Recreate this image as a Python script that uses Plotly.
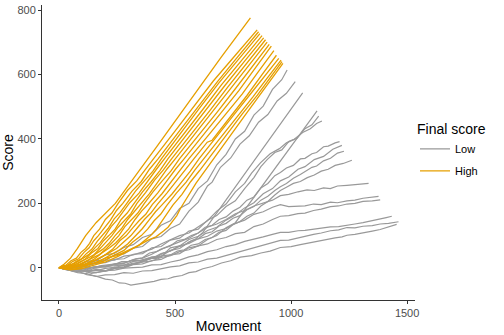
import plotly.graph_objects as go

# ---------------- data: Low final score (grey) ----------------
low01_x = [0, 40, 80, 120, 160, 200, 240, 280, 320, 360, 400, 440, 480, 520, 560, 600, 640, 680, 720, 760, 800, 840, 880, 920, 960, 983]
low01_y = [0, 7, 6, 20, 22, 40, 45, 63, 72, 94, 104, 132, 146, 184, 200, 246, 270, 320, 352, 400, 424, 474, 502, 554, 584, 614]
low02_x = [0, 40, 80, 120, 160, 200, 240, 280, 320, 360, 400, 440, 480, 520, 560, 600, 640, 660, 696, 740, 780, 820, 860, 900, 940, 980, 1018]
low02_y = [0, -2, 9, 8, 23, 24, 40, 43, 61, 66, 90, 97, 122, 136, 176, 204, 254, 266, 312, 341, 384, 410, 452, 476, 518, 542, 578]
low03_x = [0, 40, 80, 120, 160, 200, 240, 280, 320, 360, 400, 440, 480, 520, 560, 590, 620, 1050]
low03_y = [0, -5, 2, -3, 4, 2, 10, 8, 20, 22, 34, 36, 54, 60, 80, 90, 110, 543]
low04_x = [0, 40, 80, 120, 160, 200, 240, 280, 320, 360, 400, 440, 480, 520, 560, 600, 640, 680, 720, 760, 1112]
low04_y = [0, -7, -4, -12, -6, -10, -2, 0, 10, 12, 22, 26, 40, 44, 62, 68, 88, 100, 124, 140, 487]
low05_x = [0, 40, 80, 120, 160, 200, 240, 280, 320, 360, 400, 440, 480, 520, 560, 600, 640, 680, 720, 760, 800, 840, 870, 897, 930, 960, 990, 1026, 1060, 1090, 1119]
low05_y = [0, -4, 6, 4, 14, 16, 26, 28, 42, 44, 62, 66, 86, 92, 114, 120, 148, 162, 190, 208, 246, 280, 314, 336, 358, 366, 392, 402, 432, 444, 471]
low06_x = [0, 40, 80, 120, 160, 200, 240, 280, 320, 360, 400, 440, 480, 520, 560, 600, 640, 680, 720, 760, 800, 830, 868, 910, 950, 980, 1011, 1050, 1083, 1110, 1133]
low06_y = [0, 6, 4, 12, 14, 24, 24, 36, 40, 50, 58, 74, 86, 100, 108, 126, 146, 176, 198, 236, 262, 294, 326, 354, 370, 388, 398, 420, 432, 448, 456]
low07_x = [0, 30, 60, 90, 120, 150, 180, 210, 240, 270, 300, 330, 360, 390, 420, 450, 480, 510, 540, 570, 600, 630, 660, 690, 720, 750, 780, 810, 840, 870, 900, 930, 954, 980, 1010, 1040, 1060, 1090, 1110, 1140, 1160, 1190, 1209]
low07_y = [0, -6, -9, -3, -6, 3, 4, 8, 11, 19, 20, 28, 31, 46, 50, 60, 68, 84, 88, 100, 108, 126, 132, 150, 158, 176, 188, 210, 220, 248, 262, 286, 296, 310, 318, 338, 340, 354, 358, 376, 378, 388, 392]
low08_x = [0, 40, 80, 120, 160, 200, 240, 280, 320, 360, 400, 440, 480, 520, 560, 600, 640, 680, 720, 760, 800, 840, 880, 920, 954, 990, 1030, 1060, 1100, 1140, 1180, 1219]
low08_y = [0, -5, -4, -13, -6, -9, 2, 1, 12, 18, 30, 34, 62, 68, 88, 98, 116, 126, 148, 164, 186, 202, 230, 246, 270, 282, 306, 314, 336, 346, 368, 380]
low09_x = [0, 35, 70, 105, 140, 175, 210, 245, 280, 315, 350, 385, 420, 450, 480, 510, 540, 570, 600, 630, 660, 690, 720, 750, 780, 810, 840, 870, 900, 930, 954, 980, 1010, 1040, 1060, 1090, 1110, 1140, 1170, 1200, 1228]
low09_y = [0, -4, -11, -9, -17, -12, -9, -1, 3, 14, 17, 28, 33, 46, 52, 64, 70, 84, 90, 106, 112, 130, 138, 154, 162, 180, 190, 210, 222, 240, 252, 262, 278, 290, 298, 312, 316, 332, 340, 356, 362]
low10_x = [0, 35, 70, 105, 140, 175, 210, 245, 280, 315, 350, 385, 420, 450, 480, 510, 540, 570, 600, 630, 660, 690, 720, 750, 780, 810, 840, 870, 900, 930, 954, 980, 1010, 1040, 1070, 1100, 1130, 1160, 1190, 1225, 1262]
low10_y = [0, 3, 5, -2, -5, 6, 9, 14, 15, 22, 23, 30, 29, 38, 40, 52, 56, 70, 74, 88, 94, 110, 116, 134, 144, 160, 170, 192, 206, 226, 240, 250, 262, 268, 280, 288, 300, 306, 318, 324, 334]
low11_x = [0, 40, 80, 120, 160, 200, 240, 280, 320, 360, 400, 440, 481, 520, 560, 600, 640, 680, 720, 760, 800, 840, 880, 920, 954, 990, 1030, 1069, 1100, 1140, 1169, 1200, 1241, 1290, 1334]
low11_y = [0, -3, -7, -1, 3, 4, 12, 14, 25, 30, 42, 58, 70, 80, 92, 108, 126, 136, 150, 168, 178, 192, 202, 210, 224, 228, 236, 242, 240, 248, 246, 254, 256, 260, 262]
low12_x = [0, 40, 80, 120, 160, 200, 240, 280, 320, 360, 400, 440, 481, 520, 560, 600, 640, 680, 720, 760, 800, 840, 880, 920, 954, 990, 1030, 1060, 1097, 1130, 1170, 1200, 1241, 1275, 1310, 1345, 1377]
low12_y = [0, -7, -12, -9, -9, -2, 1, 8, 11, 22, 29, 44, 52, 68, 76, 90, 98, 114, 122, 138, 148, 166, 174, 188, 196, 190, 192, 192, 198, 196, 204, 202, 208, 210, 216, 218, 222]
low13_x = [0, 40, 80, 120, 160, 200, 240, 280, 320, 360, 400, 440, 481, 520, 560, 600, 640, 680, 720, 760, 800, 840, 880, 920, 954, 990, 1030, 1060, 1097, 1130, 1170, 1205, 1241, 1275, 1310, 1350, 1384]
low13_y = [0, 3, 5, 2, -1, 4, 6, 10, 11, 18, 21, 32, 38, 50, 56, 68, 74, 88, 94, 106, 110, 128, 136, 150, 160, 162, 168, 170, 178, 182, 190, 192, 198, 200, 206, 208, 211]
low14_x = [0, 40, 80, 120, 160, 200, 240, 280, 320, 360, 400, 440, 481, 520, 560, 600, 640, 680, 720, 760, 800, 840, 880, 920, 954, 990, 1030, 1060, 1096, 1130, 1170, 1205, 1241, 1275, 1310, 1350, 1384, 1410, 1434]
low14_y = [0, -5, -7, -12, -15, -9, -7, -1, 1, 2, 9, 10, 18, 24, 34, 40, 50, 56, 66, 72, 82, 88, 96, 104, 110, 110, 115, 116, 120, 122, 127, 128, 131, 136, 140, 146, 150, 156, 160]
low15_x = [0, 40, 80, 120, 160, 200, 240, 280, 320, 360, 400, 440, 481, 520, 560, 600, 640, 680, 720, 760, 800, 840, 880, 920, 954, 990, 1030, 1060, 1097, 1130, 1170, 1205, 1241, 1275, 1310, 1350, 1384, 1420, 1463]
low15_y = [0, -6, -15, -18, -27, -22, -21, -15, -17, -10, -9, -2, 3, 6, 15, 18, 27, 30, 38, 44, 54, 60, 70, 76, 85, 86, 93, 98, 104, 108, 115, 118, 125, 124, 129, 131, 136, 138, 143]
low16_x = [0, 30, 60, 90, 120, 160, 200, 230, 260, 285, 310, 345, 380, 410, 440, 470, 495, 530, 560, 590, 620, 660, 700, 740, 782, 830, 870, 910, 954, 1000, 1040, 1080, 1126, 1160, 1190, 1220, 1241, 1275, 1310, 1350, 1384, 1420, 1455]
low16_y = [0, -4, -11, -13, -21, -26, -35, -38, -47, -48, -54, -50, -45, -42, -36, -34, -28, -24, -15, -12, -3, 4, 15, 22, 33, 38, 46, 52, 63, 66, 72, 78, 85, 88, 93, 96, 101, 104, 108, 114, 119, 126, 135]

# ---------------- data: High final score (orange) ----------------
high01_x = [0, 10, 23, 50, 80, 115, 160, 243, 300, 352, 420, 500, 596, 700, 825]
high01_y = [0, 5, 12, 30, 60, 100, 140, 200, 255, 308, 375, 455, 553, 655, 776]
high02_x = [0, 15, 30, 52, 75, 95, 115, 132, 150, 175, 200, 228, 255, 295, 335, 372, 408, 495, 580, 665, 760, 854]
high02_y = [0, 6, 8, 22, 30, 48, 60, 76, 100, 120, 150, 170, 200, 240, 270, 306, 339, 420, 500, 580, 660, 739]
high03_x = [0, 18, 35, 60, 85, 108, 130, 150, 170, 196, 222, 248, 275, 315, 355, 390, 428, 512, 598, 683, 770, 860]
high03_y = [0, 1, 6, 20, 28, 48, 62, 84, 100, 126, 148, 178, 200, 238, 268, 306, 339, 418, 500, 578, 655, 733]
high04_x = [0, 20, 40, 68, 95, 118, 142, 165, 185, 212, 238, 264, 290, 330, 368, 405, 442, 525, 608, 690, 780, 866]
high04_y = [0, 5, 8, 14, 26, 44, 58, 82, 100, 122, 152, 172, 198, 238, 270, 300, 339, 420, 498, 575, 654, 727]
high05_x = [0, 22, 45, 75, 105, 130, 155, 178, 200, 225, 250, 278, 305, 345, 382, 420, 455, 535, 618, 700, 790, 875]
high05_y = [0, -1, 5, 20, 30, 42, 62, 78, 100, 128, 148, 176, 202, 232, 270, 306, 339, 412, 490, 568, 648, 721]
high06_x = [0, 25, 50, 80, 112, 140, 168, 192, 215, 242, 268, 294, 320, 360, 398, 435, 470, 550, 630, 715, 800, 882]
high06_y = [0, 4, 7, 12, 26, 46, 60, 84, 100, 120, 150, 170, 196, 236, 268, 302, 339, 414, 490, 566, 642, 714]
high07_x = [0, 28, 55, 88, 120, 150, 180, 204, 228, 255, 282, 310, 336, 374, 412, 450, 486, 568, 650, 728, 810, 890]
high07_y = [0, -2, 4, 18, 28, 40, 62, 80, 100, 126, 146, 168, 200, 234, 272, 304, 339, 412, 488, 562, 636, 708]
high08_x = [0, 30, 60, 95, 130, 160, 190, 216, 242, 270, 296, 322, 350, 390, 428, 465, 502, 580, 660, 740, 820, 897]
high08_y = [0, 3, 6, 10, 25, 44, 58, 76, 100, 122, 150, 172, 198, 230, 268, 306, 339, 410, 484, 556, 630, 701]
high09_x = [0, 32, 65, 102, 140, 172, 205, 232, 258, 284, 310, 340, 368, 405, 445, 482, 520, 600, 680, 760, 835, 906]
high09_y = [0, -3, 3, 16, 28, 40, 60, 82, 100, 128, 148, 170, 200, 236, 270, 300, 339, 410, 482, 556, 626, 694]
high10_x = [0, 35, 70, 110, 150, 185, 218, 245, 272, 300, 328, 356, 385, 425, 465, 502, 540, 620, 700, 775, 848, 915]
high10_y = [0, 2, 5, 10, 26, 46, 62, 78, 100, 120, 150, 176, 198, 232, 270, 306, 339, 410, 480, 550, 622, 688]
high11_x = [0, 38, 75, 118, 160, 195, 232, 262, 290, 318, 345, 374, 402, 444, 484, 522, 560, 640, 720, 790, 860, 926]
high11_y = [0, -4, 2, 14, 24, 38, 58, 84, 100, 124, 146, 166, 196, 230, 268, 302, 339, 408, 478, 540, 610, 674]
high12_x = [0, 40, 80, 125, 170, 210, 248, 280, 310, 340, 368, 396, 425, 465, 506, 544, 582, 639, 660, 740, 810, 875, 937]
high12_y = [0, 3, 4, 12, 28, 44, 60, 80, 100, 126, 150, 170, 198, 232, 268, 304, 339, 390, 396, 470, 535, 600, 660]
high13_x = [0, 42, 85, 132, 180, 222, 262, 296, 330, 360, 388, 416, 445, 488, 528, 566, 604, 680, 750, 820, 885, 947]
high13_y = [0, -5, -2, 10, 22, 40, 56, 74, 100, 122, 148, 174, 196, 230, 266, 300, 339, 410, 472, 535, 595, 650]
high14_x = [0, 45, 90, 140, 190, 235, 280, 318, 355, 382, 410, 438, 465, 506, 548, 586, 625, 700, 770, 835, 898, 957]
high14_y = [0, 1, 3, 12, 20, 38, 54, 80, 100, 120, 146, 166, 194, 232, 266, 304, 339, 408, 472, 530, 590, 645]
high15_x = [0, 48, 95, 148, 200, 250, 300, 348, 395, 418, 440, 465, 490, 530, 568, 606, 645, 720, 790, 855, 910, 961]
high15_y = [0, -6, -3, 8, 18, 34, 52, 72, 100, 118, 142, 166, 194, 228, 268, 302, 339, 412, 478, 536, 590, 640]
high16_x = [0, 50, 100, 150, 200, 250, 300, 340, 382, 418, 452, 470, 490, 508, 524, 556, 590, 628, 666, 740, 810, 880, 965]
high16_y = [0, 4, 10, 14, 30, 38, 55, 68, 85, 96, 115, 126, 145, 162, 185, 222, 262, 300, 339, 412, 482, 552, 635]

low_lines = [
    (low01_x, low01_y), (low02_x, low02_y), (low03_x, low03_y), (low04_x, low04_y),
    (low05_x, low05_y), (low06_x, low06_y), (low07_x, low07_y), (low08_x, low08_y),
    (low09_x, low09_y), (low10_x, low10_y), (low11_x, low11_y), (low12_x, low12_y),
    (low13_x, low13_y), (low14_x, low14_y), (low15_x, low15_y), (low16_x, low16_y),
]
high_lines = [
    (high01_x, high01_y), (high02_x, high02_y), (high03_x, high03_y), (high04_x, high04_y),
    (high05_x, high05_y), (high06_x, high06_y), (high07_x, high07_y), (high08_x, high08_y),
    (high09_x, high09_y), (high10_x, high10_y), (high11_x, high11_y), (high12_x, high12_y),
    (high13_x, high13_y), (high14_x, high14_y), (high15_x, high15_y), (high16_x, high16_y),
]

x_ticks = [0, 500, 1000, 1500]
y_ticks = [0, 200, 400, 600, 800]

LOW_COLOR = "#999999"
HIGH_COLOR = "#E69F00"
FONT = "Liberation Sans, Arial, sans-serif"

fig = go.Figure()
for i, (xs, ys) in enumerate(low_lines):
    fig.add_trace(go.Scatter(x=xs, y=ys, mode="lines", name="Low", legendgroup="Low",
                             showlegend=(i == 0), line=dict(color=LOW_COLOR, width=1.2)))
for i, (xs, ys) in enumerate(high_lines):
    fig.add_trace(go.Scatter(x=xs, y=ys, mode="lines", name="High", legendgroup="High",
                             showlegend=(i == 0), line=dict(color=HIGH_COLOR, width=1.3)))

axis_common = dict(showgrid=False, zeroline=False, showline=True, linecolor="#333333",
                   linewidth=1.1, ticks="outside", ticklen=3, tickcolor="#333333",
                   tickfont=dict(family=FONT, size=11, color="#4D4D4D"))

fig.update_layout(
    width=504, height=335,
    margin=dict(l=41, r=89, t=4, b=32),
    plot_bgcolor="white", paper_bgcolor="white",
    font=dict(family=FONT),
    xaxis=dict(range=[-73, 1534], tickvals=x_ticks, ticktext=[str(v) for v in x_ticks],
               title=dict(text="Movement", font=dict(family=FONT, size=14, color="black"), standoff=2),
               **axis_common),
    yaxis=dict(range=[-100, 816], tickvals=y_ticks, ticktext=[str(v) for v in y_ticks],
               title=dict(text="Score", font=dict(family=FONT, size=14, color="black"), standoff=4),
               **axis_common),
    legend=dict(title=dict(text="Final score", font=dict(family=FONT, size=14, color="black")),
                font=dict(family=FONT, size=11, color="black"),
                x=1.0, xanchor="left", y=0.623, yanchor="top",
                itemwidth=30, tracegroupgap=3, bgcolor="rgba(0,0,0,0)"),
)

fig.write_html("out.html")
